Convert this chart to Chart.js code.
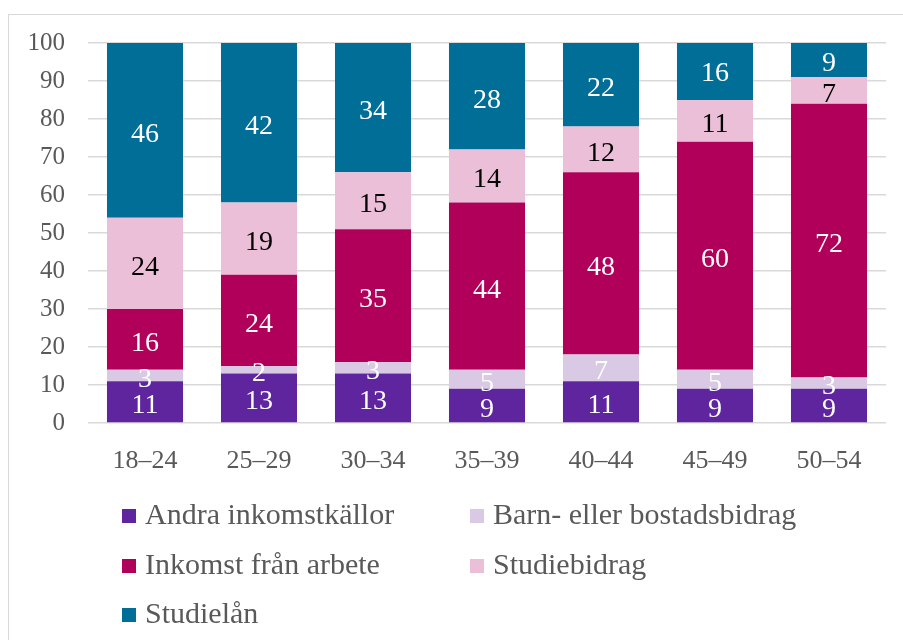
<!DOCTYPE html>
<html lang="sv">
<head>
  <meta charset="UTF-8">
  <title>Inkomstkällor per ålder</title>
  <style>
    body {
      margin: 0;
      background: white;
      font-family: 'Liberation Serif', serif;
    }
    .frame {
      position: absolute;
      left: 8px;
      top: 14px;
      width: 910px;
      height: 640px;
      border: 1px solid #d9d9d9;
    }
    #wrap {
      position: absolute;
      left: 0;
      top: 0;
      width: 903px;
      height: 640px;
    }
    .legend {
      position: absolute;
      left: 122px;
      top: 496px;
      color: #595959;
      font-size: 30px;
    }
    .legend .item {
      position: absolute;
      white-space: nowrap;
      line-height: 36px;
    }
    .legend .box {
      display: inline-block;
      width: 14px;
      height: 14px;
      margin-right: 9px;
      vertical-align: 1px;
    }
  </style>
  <script src="https://cdn.jsdelivr.net/npm/chart.js"></script>
</head>
<body>
  <div class="frame"></div>
  <div id="wrap"><canvas id="chart" width="903" height="640"></canvas></div>
  <div class="legend" id="legend"></div>

  <script>
    const ageGroups = ['18–24', '25–29', '30–34', '35–39', '40–44', '45–49', '50–54'];

    const andraInkomst = [11, 13, 13, 9, 11, 9, 9];
    const barnBostad = [3, 2, 3, 5, 7, 5, 3];
    const inkomstArbete = [16, 24, 35, 44, 48, 60, 72];
    const studiebidrag = [24, 19, 15, 14, 12, 11, 7];
    const studielan = [46, 42, 34, 28, 22, 16, 9];

    const yTicks = [0, 10, 20, 30, 40, 50, 60, 70, 80, 90, 100];

    const series = [
      { label: 'Andra inkomstkällor', data: andraInkomst, color: '#5f259f', text: '#ffffff' },
      { label: 'Barn- eller bostadsbidrag', data: barnBostad, color: '#d9c9e5', text: '#ffffff' },
      { label: 'Inkomst från arbete', data: inkomstArbete, color: '#b0005a', text: '#ffffff' },
      { label: 'Studiebidrag', data: studiebidrag, color: '#ebbfd8', text: '#000000' },
      { label: 'Studielån', data: studielan, color: '#006e96', text: '#ffffff' }
    ];

    // value labels inside each segment
    const segmentLabels = {
      id: 'segmentLabels',
      afterDatasetsDraw(chart) {
        const ctx = chart.ctx;
        ctx.save();
        ctx.font = '28px "Liberation Serif", serif';
        ctx.textAlign = 'center';
        ctx.textBaseline = 'middle';
        chart.data.datasets.forEach((ds, i) => {
          const meta = chart.getDatasetMeta(i);
          meta.data.forEach((bar, j) => {
            const mid = (bar.y + bar.base) / 2;
            ctx.fillStyle = series[i].text;
            ctx.fillText(String(ds.data[j]), bar.x, mid + 4);
          });
        });
        ctx.restore();
      }
    };

    new Chart(document.getElementById('chart'), {
      type: 'bar',
      data: {
        labels: ageGroups,
        datasets: series.map(s => ({
          label: s.label,
          data: s.data,
          backgroundColor: s.color,
          borderWidth: 0,
          barPercentage: 0.667,
          categoryPercentage: 1
        }))
      },
      options: {
        responsive: false,
        animation: false,
        events: [],
        layout: {
          padding: { left: 0, right: 17, top: 43, bottom: 157 }
        },
        plugins: {
          legend: { display: false },
          tooltip: { enabled: false }
        },
        scales: {
          x: {
            stacked: true,
            afterFit: (scale) => { scale.height = 60; },
            grid: { display: false, drawTicks: false },
            border: { display: false },
            ticks: {
              color: '#595959',
              padding: 23,
              font: { family: '"Liberation Serif", serif', size: 26 }
            }
          },
          y: {
            stacked: true,
            min: 0,
            max: 100,
            afterFit: (scale) => { scale.width = 88; },
            afterBuildTicks: (scale) => { scale.ticks = yTicks.map(v => ({ value: v })); },
            grid: { color: '#d9d9d9', lineWidth: 1.5, drawTicks: false },
            border: { display: false },
            ticks: {
              color: '#595959',
              padding: 23,
              font: { family: '"Liberation Serif", serif', size: 25 }
            }
          }
        }
      },
      plugins: [segmentLabels]
    });

    // legend in two columns, as in the original
    const legendPos = [
      [0, 0], [348, 0],
      [0, 50], [348, 50],
      [0, 99]
    ];
    const legendEl = document.getElementById('legend');
    series.forEach((s, i) => {
      const item = document.createElement('div');
      item.className = 'item';
      item.style.left = legendPos[i][0] + 'px';
      item.style.top = legendPos[i][1] + 'px';
      item.innerHTML = '<span class="box" style="background:' + s.color + '"></span>' + s.label;
      legendEl.appendChild(item);
    });
  </script>
</body>
</html>
